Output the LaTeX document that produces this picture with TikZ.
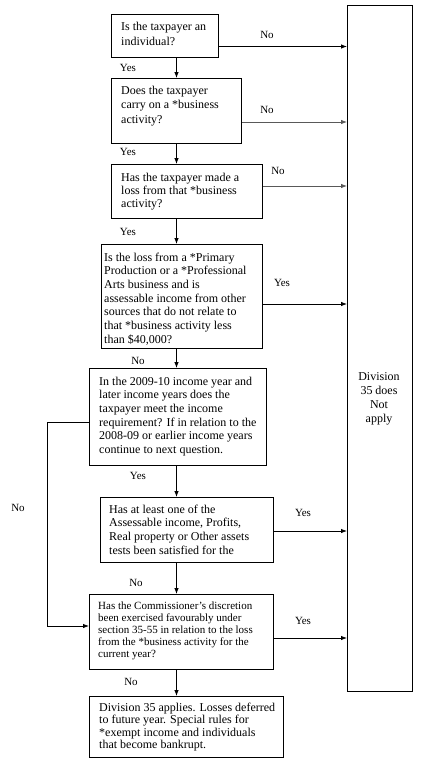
\documentclass[tikz,border=0pt]{standalone}
\usepackage{fontspec}
\setmainfont{Liberation Serif}
\usetikzlibrary{arrows.meta,calc}
\tikzset{
  box/.style={draw, line width=0.8pt, anchor=north west, inner sep=0pt},
  txt/.style={anchor=north west, inner sep=0pt, align=left, font=\fontsize{12}{13.7}\selectfont},
  lbl/.style={inner sep=0pt, font=\fontsize{11}{13}\selectfont},
  arr/.style={-{Latex[length=6pt,width=4.5pt]}, line width=0.8pt},
  grayarr/.style={arr, draw=black!65}
}
\begin{document}
\begin{tikzpicture}[x=1pt,y=-1pt]
\useasboundingbox (0,0) rectangle (421,774);
% boxes
\node[box, minimum width=107, minimum height=43] (b1) at (111,14) {};
\node[box, minimum width=130, minimum height=65] (b2) at (111,78) {};
\node[box, minimum width=151, minimum height=54] (b3) at (111,164) {};
\node[box, minimum width=161, minimum height=104] (b4) at (101,244) {};
\node[box, minimum width=177, minimum height=97] (b5) at (89,368) {};
\node[box, minimum width=173, minimum height=65] (b6) at (100,497) {};
\node[box, minimum width=184, minimum height=75] (b7) at (89,594) {};
\node[box, minimum width=194, minimum height=61] (b8) at (89,696) {};
\node[box, minimum width=65, minimum height=686] (rb) at (347,5) {};
% texts
\node[txt, font=\fontsize{12}{15.7}\selectfont] (t1) at ($(b1.north west)+(10,7.5)$) {Is the taxpayer an\\individual?};
\node[txt, font=\fontsize{12}{14.5}\selectfont] (t2) at ($(b2.north west)+(10,7.5)$) {Does the taxpayer\\carry on a *business\\activity?};
\node[txt, font=\fontsize{12}{13.4}\selectfont] (t3) at ($(b3.north west)+(10,8.5)$) {Has the taxpayer made a\\loss from that *business\\activity?};
\node[txt] (t4) at ($(b4.north west)+(3,8.5)$) {Is the loss from a *Primary\\Production or a *Professional\\Arts business and is\\assessable income from other\\sources that do not relate to\\that *business activity less\\than \$40,000?};
\node[txt] (t5) at ($(b5.north west)+(10,8.5)$) {In the 2009-10 income year and\\later income years does the\\taxpayer meet the income\\requirement? If in relation to the\\2008-09 or earlier income years\\continue to next question.};
\node[txt, font=\fontsize{12}{13.8}\selectfont] (t6) at ($(b6.north west)+(9,7.5)$) {Has at least one of the\\Assessable income, Profits,\\Real property or Other assets\\tests been satisfied for the};
\node[txt, font=\fontsize{11}{11.8}\selectfont] (t7) at ($(b7.north west)+(9,8)$) {Has the Commissioner’s discretion\\been exercised favourably under\\section 35-55 in relation to the loss\\from the *business activity for the\\current year?};
\node[txt, font=\fontsize{12}{12.6}\selectfont] (t8) at ($(b8.north west)+(10,6.5)$) {Division 35 applies. Losses deferred\\to future year. Special rules for\\*exempt income and individuals\\that become bankrupt.};
\node[align=center, inner sep=0pt, font=\fontsize{12}{14}\selectfont] (tr) at (379,399) {Division\\35 does\\Not\\apply};
% vertical flow
\coordinate (xc) at (176.5,0);
\draw[arr] (b1.south -| xc) -- (b2.north -| xc);
\draw[arr] (b2.south -| xc) -- (b3.north -| xc);
\draw[arr] (b3.south -| xc) -- (b4.north -| xc);
\draw[arr] (b4.south -| xc) -- (b5.north -| xc);
\draw[arr] (b5.south -| xc) -- (b6.north -| xc);
\draw[arr] (b6.south -| xc) -- (b7.north -| xc);
\draw[arr] (b7.south -| xc) -- (b8.north -| xc);
% horizontal to right box
\coordinate (h1) at (0,46.5);
\coordinate (h2) at (0,122);
\coordinate (h3) at (0,186);
\coordinate (h4) at (0,304);
\coordinate (h6) at (0,531);
\coordinate (h7) at (0,638);
\draw[arr] (b1.east |- h1) -- (rb.west |- h1);
\draw[grayarr] (b2.east |- h2) -- (rb.west |- h2);
\draw[grayarr] (b3.east |- h3) -- (rb.west |- h3);
\draw[arr] (b4.east |- h4) -- (rb.west |- h4);
\draw[arr] (b6.east |- h6) -- (rb.west |- h6);
\draw[arr] (b7.east |- h7) -- (rb.west |- h7);
% left loop
\coordinate (L1) at (47,422);
\coordinate (L2) at (47,626);
\draw[arr] (b5.west |- L1) -- (L1) -- (L2) -- (b7.west |- L2);
% labels
\node[lbl] (n1) at (267,35) {No};
\node[lbl] (y1) at (128,68) {Yes};
\node[lbl] (n2) at (267,110) {No};
\node[lbl] (y2) at (128,152) {Yes};
\node[lbl] (n3) at (278,171) {No};
\node[lbl] (y3) at (128,232) {Yes};
\node[lbl] (y4) at (282,283) {Yes};
\node[lbl] (n4) at (138,361) {No};
\node[lbl] (y5) at (138,476) {Yes};
\node[lbl] (n5) at (18,508) {No};
\node[lbl] (y6) at (303,513) {Yes};
\node[lbl] (n6) at (136,583) {No};
\node[lbl] (y7) at (303,621) {Yes};
\node[lbl] (n7) at (131,682) {No};
\end{tikzpicture}
\end{document}
